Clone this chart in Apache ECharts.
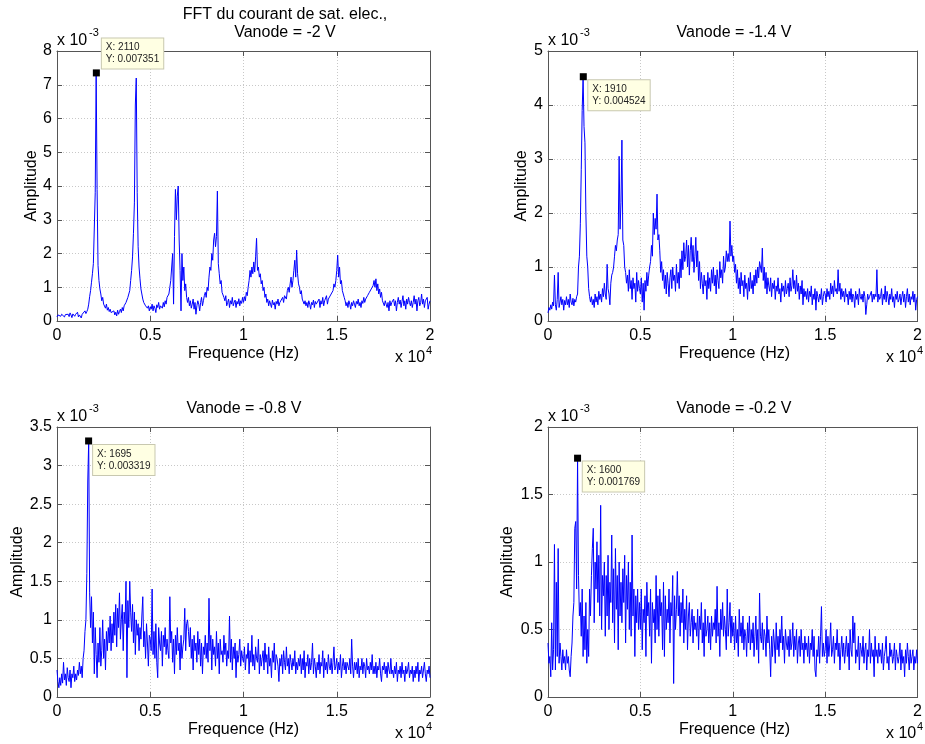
<!DOCTYPE html>
<html><head><meta charset="utf-8">
<script src="https://cdn.jsdelivr.net/npm/echarts@6/dist/echarts.min.js"></script>
<style>html,body{margin:0;padding:0;background:#fff}#c{width:925px;height:744px}</style>
</head><body><div id="c"></div>
<script>
// FFT bins every 50 Hz from 0 to 20000 Hz ; amplitudes in units of 1e-3
const freqStep = 50;
const titles = [["FFT du courant de sat. elec.,", "Vanode = -2 V"], ["Vanode = -1.4 V"], ["Vanode = -0.8 V"], ["Vanode = -0.2 V"]];
const yMax = [8, 5, 3.5, 2];
const yInterval = [1, 1, 0.5, 0.5];
const xTickLabels = ["0", "0.5", "1", "1.5", "2"];
const peakX = [2110, 1910, 1695, 1600];
const peakY = [0.007351, 0.004524, 0.003319, 0.001769];

const amp1 = [
0.12,0.18,0.15,0.22,0.14,0.2,0.25,0.16,0.12,0.19,0.23,0.15,0.2,0.13,0.24,0.18,0.1,0.21,0.17,0.14,
0.2,0.15,0.26,0.12,0.18,0.22,0.09,0.2,0.25,0.16,0.3,0.22,0.28,0.35,0.5,0.72,0.9,1.15,1.4,1.7,
1.75,3.8,7.351,3.9,1.65,1.2,0.95,0.8,0.6,0.7,0.5,0.45,0.38,0.5,0.32,0.4,0.28,0.35,0.25,0.3,
0.22,0.3,0.18,0.26,0.15,0.32,0.2,0.28,0.35,0.25,0.4,0.3,0.45,0.4,0.55,0.5,0.7,0.75,0.9,1.2,
1.5,1.9,2.6,3.5,6.4,7.2,3.8,2.2,1.6,1.25,0.95,0.8,0.65,0.55,0.6,0.45,0.5,0.38,0.45,0.3,
0.42,0.35,0.5,0.3,0.45,0.38,0.25,0.48,0.4,0.55,0.35,0.45,0.5,0.38,0.55,0.42,0.6,0.5,0.7,0.65,
0.8,1.0,1.2,1.6,2.0,0.5,2.5,3.9,3.0,3.7,4.0,2.4,1.5,0.3,2.0,1.2,1.6,0.9,1.1,0.7,
0.55,0.7,0.45,0.6,0.38,0.5,0.65,0.35,0.55,0.2,0.45,0.6,0.5,0.3,0.55,0.7,0.45,0.6,0.75,0.85,
0.7,1.0,0.9,1.3,1.6,1.5,2.0,1.8,2.4,2.6,2.2,2.5,3.85,1.7,1.4,1.1,1.2,0.85,0.9,0.7,
0.6,0.75,0.45,0.55,0.65,0.4,0.6,0.5,0.7,0.45,0.55,0.62,0.4,0.58,0.5,0.66,0.45,0.6,0.52,0.7,
0.55,0.72,0.6,0.85,0.75,1.0,1.2,1.5,1.3,1.6,1.4,1.75,1.45,1.9,2.45,1.5,1.6,1.3,1.4,1.1,
1.2,0.9,1.0,0.7,0.8,0.55,0.65,0.45,0.6,0.5,0.4,0.62,0.48,0.55,0.35,0.58,0.5,0.65,0.45,0.55,
0.6,0.5,0.7,0.55,0.75,0.8,0.65,0.9,1.0,0.85,1.1,1.3,1.0,1.2,1.5,1.8,1.3,2.1,1.4,1.1,
1.0,0.8,0.9,0.65,0.7,0.5,0.6,0.45,0.55,0.4,0.6,0.5,0.35,0.55,0.48,0.62,0.4,0.58,0.5,0.45,
0.55,0.65,0.4,0.6,0.5,0.7,0.45,0.6,0.55,0.75,0.5,0.65,0.7,0.6,0.8,0.75,0.9,1.1,1.0,1.2,
1.5,1.95,1.3,1.6,1.1,1.2,0.9,0.8,0.7,0.6,0.45,0.55,0.4,0.6,0.5,0.35,0.55,0.45,0.6,0.5,
0.4,0.58,0.5,0.65,0.45,0.55,0.4,0.6,0.52,0.7,0.55,0.65,0.6,0.75,0.7,0.85,0.8,0.95,0.9,1.05,
1.2,1.0,1.25,0.9,1.1,0.8,0.95,0.7,0.85,0.6,0.65,0.45,0.6,0.5,0.4,0.55,0.3,0.6,0.45,0.55,
0.5,0.65,0.45,0.6,0.3,0.55,0.7,0.5,0.62,0.4,0.58,0.75,0.45,0.6,0.35,0.65,0.5,0.7,0.55,0.45,
0.6,0.4,0.55,0.75,0.5,0.65,0.3,0.6,0.7,0.45,0.55,0.8,0.5,0.65,0.4,0.6,0.55,0.7,0.35,0.5,
0.6];

const amp2 = [
0.15,0.25,0.2,0.3,0.22,0.35,0.28,0.85,0.3,0.2,0.4,0.9,0.25,0.35,0.45,0.3,0.4,0.2,0.38,0.3,
0.45,0.3,0.4,0.25,0.5,0.35,0.3,0.42,0.28,0.4,0.35,0.45,0.5,1.0,1.2,1.8,2.8,3.9,4.524,3.6,
3.3,2.0,1.2,1.0,0.6,0.45,0.35,0.45,0.3,0.4,0.25,0.5,0.35,0.45,0.3,0.55,0.4,0.5,0.35,0.6,
0.45,0.7,0.5,0.4,1.05,0.6,0.5,0.3,0.7,0.85,0.9,1.0,1.2,1.4,1.3,1.5,1.6,3.05,1.7,2.2,
3.35,1.5,1.4,1.0,0.9,0.7,0.85,0.55,0.95,0.6,0.75,0.4,0.8,0.6,0.7,0.35,0.9,0.55,0.75,0.6,
0.5,0.8,0.35,0.7,0.2,0.75,0.55,0.9,0.65,0.85,1.0,1.1,1.4,1.2,2.0,1.6,1.9,1.7,2.35,1.5,
1.6,1.3,0.9,1.1,0.75,0.95,0.6,0.85,0.5,0.9,0.7,0.45,0.8,0.95,0.6,1.0,0.75,0.85,0.55,1.05,
0.7,0.9,0.6,1.15,0.8,1.3,0.95,1.45,1.1,1.2,1.5,1.0,1.4,0.85,1.3,1.55,1.1,1.4,0.9,1.2,
1.55,1.0,1.3,0.75,1.1,0.6,0.9,0.7,0.5,0.85,0.65,0.75,0.4,0.9,0.6,0.8,0.55,0.95,0.7,1.0,
0.65,0.85,0.5,0.95,0.75,0.6,1.1,0.8,0.95,0.7,1.2,0.9,1.0,1.3,1.1,1.25,1.1,1.85,1.2,1.4,
1.1,1.2,0.9,1.05,0.7,0.95,0.6,0.8,0.5,0.9,0.65,0.75,0.45,0.85,0.6,0.7,0.4,0.8,0.55,0.9,
0.6,0.75,0.5,0.85,0.65,0.95,0.7,1.0,0.8,1.1,1.1,0.9,1.35,0.75,1.0,0.6,0.9,0.5,0.8,0.65,
0.55,0.8,0.45,0.7,0.6,0.75,0.4,0.65,0.55,0.8,0.5,0.6,0.35,0.7,0.55,0.65,0.45,0.75,0.5,0.6,
0.7,0.45,0.8,0.55,0.65,0.95,0.6,0.75,0.5,0.85,0.55,0.7,0.4,0.65,0.5,0.75,0.3,0.6,0.45,0.55,
0.4,0.6,0.35,0.55,0.45,0.65,0.3,0.5,0.4,0.6,0.2,0.55,0.45,0.35,0.5,0.4,0.6,0.3,0.45,0.55,
0.5,0.35,0.6,0.45,0.55,0.4,0.7,0.5,0.65,0.45,0.75,0.55,0.6,0.5,0.95,0.55,0.7,0.4,0.6,0.45,
0.55,0.35,0.6,0.45,0.5,0.3,0.55,0.4,0.6,0.35,0.5,0.45,0.25,0.55,0.4,0.5,0.3,0.6,0.45,0.4,
0.5,0.35,0.55,0.45,0.12,0.3,0.5,0.4,0.45,0.45,0.55,0.35,0.5,0.4,0.5,0.45,0.95,0.35,0.5,0.4,
0.45,0.6,0.3,0.5,0.4,0.65,0.35,0.55,0.45,0.3,0.5,0.4,0.6,0.35,0.45,0.25,0.5,0.4,0.55,0.35,
0.4,0.5,0.3,0.45,0.55,0.35,0.5,0.25,0.45,0.6,0.35,0.5,0.3,0.45,0.4,0.55,0.35,0.5,0.2,0.4,
0.45];

const amp3 = [
0.35,0.2,0.12,0.25,0.15,0.3,0.18,0.45,0.22,0.3,0.15,0.38,0.25,0.2,0.35,0.12,0.3,0.25,0.4,0.2,
0.3,0.22,0.35,0.28,0.45,0.3,0.4,0.25,0.5,0.6,0.85,1.0,1.6,2.8,3.319,1.35,0.9,1.3,0.7,1.1,
0.3,0.9,0.55,0.25,0.7,0.45,0.9,0.4,0.6,1.0,0.5,0.75,0.35,0.85,0.6,0.9,0.7,1.05,0.6,0.95,
0.7,1.1,0.8,1.2,0.65,1.15,0.9,1.35,0.75,1.0,1.2,0.6,1.1,0.95,1.5,0.25,1.25,0.9,1.5,1.1,
0.85,1.2,0.7,1.1,0.55,1.0,0.8,0.95,0.6,0.9,0.75,1.05,1.3,0.65,0.85,0.5,0.95,0.7,0.4,0.8,
0.75,0.6,1.4,0.55,0.85,0.5,0.95,0.45,0.25,0.9,0.7,0.6,0.85,0.4,0.8,0.65,0.9,0.55,0.75,0.6,
0.5,1.3,0.7,0.85,0.45,0.75,0.3,0.8,0.55,0.9,0.6,0.7,0.35,0.8,0.5,0.65,0.75,1.15,0.6,0.95,
1.0,0.85,0.65,0.9,0.5,0.75,0.35,0.8,0.6,0.7,0.45,0.85,0.55,0.75,0.4,0.7,0.3,0.65,0.55,0.8,
0.5,0.7,0.45,1.28,0.6,0.8,0.35,0.75,0.55,0.65,0.4,0.85,0.5,0.7,0.3,0.75,0.55,0.6,0.45,0.8,
0.55,0.7,0.4,0.6,0.5,1.05,0.45,0.75,0.35,0.65,0.5,0.7,0.25,0.6,0.45,0.55,0.75,0.4,0.6,0.5,
0.45,0.65,0.35,0.55,0.5,0.7,0.3,0.6,0.45,0.8,0.4,0.55,0.35,0.65,0.5,0.45,0.75,0.3,0.55,0.4,
0.5,0.6,0.35,0.7,0.45,0.55,0.3,0.65,0.4,0.5,0.25,0.6,0.45,0.7,0.35,0.55,0.5,0.4,0.2,0.5,
0.4,0.55,0.3,0.6,0.45,0.35,0.65,0.4,0.5,0.3,0.55,0.45,0.35,0.5,0.4,0.6,0.3,0.45,0.35,0.5,
0.4,0.55,0.3,0.5,0.35,0.6,0.25,0.45,0.4,0.55,0.3,0.5,0.35,0.45,0.7,0.3,0.5,0.4,0.25,0.45,
0.35,0.55,0.3,0.45,0.4,0.6,0.25,0.5,0.35,0.45,0.3,0.55,0.4,0.35,0.5,0.3,0.45,0.65,0.35,0.4,
0.5,0.3,0.45,0.35,0.55,0.25,0.4,0.5,0.35,0.45,0.3,0.45,0.4,0.35,0.5,0.3,0.75,0.4,0.25,0.45,
0.35,0.45,0.3,0.5,0.25,0.4,0.35,0.5,0.3,0.45,0.4,0.25,0.5,0.35,0.4,0.3,0.45,0.35,0.55,0.3,
0.4,0.3,0.45,0.25,0.4,0.35,0.5,0.3,0.2,0.4,0.35,0.45,0.3,0.4,0.25,0.45,0.35,0.3,0.5,0.3,
0.35,0.25,0.4,0.3,0.45,0.2,0.35,0.3,0.4,0.25,0.45,0.3,0.35,0.2,0.4,0.3,0.35,0.45,0.25,0.35,
0.3,0.4,0.2,0.35,0.25,0.4,0.3,0.45,0.2,0.35,0.3,0.4,0.25,0.35,0.45,0.3,0.2,0.35,0.3,0.4,
0.25];

const amp4 = [
0.4,0.25,0.3,0.15,0.55,0.2,0.35,1.13,0.2,0.85,0.3,1.1,0.25,0.4,0.3,0.2,0.35,0.25,0.3,0.2,
0.35,0.25,0.3,0.2,0.15,0.3,0.4,0.6,0.7,1.25,1.3,0.8,1.769,0.9,0.6,0.7,0.45,0.8,0.3,0.6,
0.35,0.7,0.25,0.5,0.3,0.8,0.6,0.9,1.1,1.25,0.55,1.0,0.8,1.15,0.7,1.05,0.6,1.42,0.5,0.9,
0.75,1.0,0.45,0.9,0.6,1.05,0.5,0.85,0.7,1.2,0.55,0.95,0.4,1.1,0.65,0.9,0.35,1.0,0.6,0.85,
0.55,0.95,0.7,1.05,0.4,0.9,0.65,1.0,0.5,0.85,0.45,1.2,0.6,0.8,0.3,0.75,0.55,0.8,0.5,0.7,
0.5,0.8,0.35,0.65,0.55,0.75,0.3,0.85,0.6,0.7,0.45,0.8,0.25,0.7,0.55,0.65,0.4,0.9,0.5,0.75,
0.45,0.8,0.6,0.7,0.35,0.85,0.3,0.75,0.5,0.65,0.55,0.8,0.4,0.7,0.6,0.9,0.1,0.75,0.5,0.65,
0.93,0.6,0.75,0.45,0.7,0.55,0.8,0.4,0.65,0.5,0.75,0.35,0.6,0.7,0.45,0.55,0.65,0.4,0.6,0.5,
0.55,0.45,0.65,0.35,0.6,0.5,0.7,0.4,0.55,0.3,0.65,0.45,0.5,0.6,0.4,0.55,0.35,0.6,0.45,0.55,
0.5,0.65,0.4,0.82,0.45,0.55,0.3,0.65,0.5,0.7,0.45,0.6,0.5,0.35,0.8,0.45,0.55,0.7,0.4,0.6,
0.45,0.55,0.35,0.6,0.4,0.5,0.3,0.65,0.45,0.55,0.4,0.6,0.35,0.5,0.45,0.3,0.55,0.4,0.6,0.35,
0.5,0.4,0.55,0.3,0.45,0.6,0.35,0.5,0.25,0.77,0.45,0.4,0.55,0.35,0.5,0.45,0.3,0.6,0.4,0.5,
0.35,0.15,0.45,0.3,0.5,0.4,0.25,0.55,0.35,0.45,0.3,0.5,0.4,0.6,0.35,0.45,0.25,0.5,0.4,0.35,
0.45,0.3,0.5,0.35,0.4,0.55,0.3,0.45,0.35,0.5,0.25,0.4,0.45,0.3,0.5,0.35,0.4,0.25,0.45,0.35,
0.4,0.3,0.45,0.25,0.4,0.35,0.5,0.3,0.45,0.2,0.15,0.35,0.3,0.45,0.25,0.45,0.67,0.3,0.4,0.3,
0.35,0.5,0.25,0.45,0.3,0.4,0.55,0.3,0.35,0.45,0.25,0.4,0.35,0.5,0.3,0.4,0.2,0.35,0.45,0.3,
0.4,0.25,0.35,0.45,0.3,0.4,0.2,0.5,0.35,0.3,0.6,0.4,0.55,0.25,0.35,0.3,0.45,0.2,0.4,0.35,
0.3,0.45,0.25,0.35,0.4,0.2,0.35,0.3,0.5,0.25,0.4,0.3,0.35,0.15,0.45,0.3,0.35,0.25,0.4,0.3,
0.35,0.25,0.4,0.2,0.3,0.35,0.45,0.25,0.3,0.2,0.4,0.3,0.35,0.25,0.3,0.4,0.2,0.35,0.3,0.25,
0.3,0.4,0.2,0.35,0.25,0.3,0.15,0.35,0.25,0.4,0.3,0.2,0.35,0.25,0.3,0.35,0.2,0.3,0.25,0.35,
0.25];

const amps = [amp1, amp2, amp3, amp4];

// ---------- layout ----------
const FONT = "'Liberation Sans', Arial, sans-serif";
const grids = [
  {left: 57, top: 51, width: 373, height: 270},
  {left: 548, top: 51, width: 373, height: 270},
  {left: 57, top: 427, width: 373, height: 270},
  {left: 548, top: 427, width: 373, height: 270}
];
const titleCenterX = [285, 734, 244, 734];
const ylabelX = [32, 522, 18, 508];
const tipOffset = [[9, -31], [8.5, 7], [8, 7.5], [8.7, 6.7]];

const xAxes = [], yAxes = [], series = [], graphics = [];
const axisLineStyle = {color: '#555', width: 1};
grids.forEach((g, i) => {
  xAxes.push({
    gridIndex: i, type: 'value', min: 0, max: 20000, interval: 5000, position: 'bottom',
    axisLine: {show: true, onZero: false, lineStyle: axisLineStyle},
    axisTick: {show: true, inside: true, length: 5, lineStyle: {color: '#555'}},
    axisLabel: {show: true, margin: 7, fontSize: 16, color: '#000', fontFamily: FONT,
      formatter: v => xTickLabels[Math.round(v / 5000)]},
    splitLine: {show: true, lineStyle: {color: '#c8c8c8', type: [1, 2], width: 1}}
  });
  xAxes.push({
    gridIndex: i, type: 'value', min: 0, max: 20000, interval: 5000, position: 'top',
    axisLine: {show: true, onZero: false, lineStyle: axisLineStyle},
    axisTick: {show: true, inside: true, length: 5, lineStyle: {color: '#555'}},
    axisLabel: {show: false}, splitLine: {show: false}
  });
  yAxes.push({
    gridIndex: i, type: 'value', min: 0, max: yMax[i], interval: yInterval[i], position: 'left',
    axisLine: {show: true, onZero: false, lineStyle: axisLineStyle},
    axisTick: {show: true, inside: true, length: 5, lineStyle: {color: '#555'}},
    axisLabel: {show: true, margin: 5, fontSize: 16, color: '#000', fontFamily: FONT},
    splitLine: {show: true, lineStyle: {color: '#c8c8c8', type: [1, 2], width: 1}}
  });
  yAxes.push({
    gridIndex: i, type: 'value', min: 0, max: yMax[i], interval: yInterval[i], position: 'right',
    axisLine: {show: true, onZero: false, lineStyle: axisLineStyle},
    axisTick: {show: true, inside: true, length: 5, lineStyle: {color: '#555'}},
    axisLabel: {show: false}, splitLine: {show: false}
  });
  series.push({
    type: 'line', xAxisIndex: 2 * i, yAxisIndex: 2 * i,
    data: amps[i].map((v, k) => [k * freqStep, v]),
    showSymbol: false, symbol: 'none', sampling: null,
    lineStyle: {color: '#0000ff', width: 1}, itemStyle: {color: '#0000ff'},
    silent: true, animation: false,
    markPoint: {
      silent: true, animation: false,
      symbol: 'rect', symbolSize: 7, itemStyle: {color: '#000'},
      label: {
        show: true, position: tipOffset[i], align: 'left', verticalAlign: 'top',
        formatter: 'X: ' + peakX[i] + '\nY: ' + peakY[i],
        fontSize: 10, lineHeight: 12, color: '#222', fontFamily: FONT,
        backgroundColor: '#ffffe3', borderColor: '#c8c8b0', borderWidth: 1,
        padding: [3, 4, 3, 4]
      },
      data: [{coord: [peakX[i], peakY[i] * 1000]}]
    }
  });

  // titles
  const tl = titles[i];
  const axTop = g.top;
  tl.forEach((t, j) => {
    graphics.push({type: 'text', x: titleCenterX[i], y: axTop - 18 - (tl.length - 1 - j) * 18,
      style: {text: t, font: '16px ' + FONT, fill: '#000', textAlign: 'center', textVerticalAlign: 'middle'}});
  });
  // y label
  graphics.push({type: 'text', x: ylabelX[i], y: g.top + g.height / 2, rotation: Math.PI / 2,
    style: {text: 'Amplitude', font: '16px ' + FONT, fill: '#000', textAlign: 'center', textVerticalAlign: 'middle'}});
  // x label
  graphics.push({type: 'text', x: g.left + g.width / 2, y: g.top + g.height + 33,
    style: {text: 'Frequence (Hz)', font: '16px ' + FONT, fill: '#000', textAlign: 'center', textVerticalAlign: 'middle'}});
  // x 10^-3
  graphics.push({type: 'text', x: g.left, y: g.top - 10,
    style: {text: 'x 10', font: '16px ' + FONT, fill: '#000', textAlign: 'left', textVerticalAlign: 'middle'}});
  graphics.push({type: 'text', x: g.left + 32, y: g.top - 18,
    style: {text: '-3', font: '11px ' + FONT, fill: '#000', textAlign: 'left', textVerticalAlign: 'middle'}});
  // x 10^4
  graphics.push({type: 'text', x: g.left + g.width - 35, y: g.top + g.height + 37,
    style: {text: 'x 10', font: '16px ' + FONT, fill: '#000', textAlign: 'left', textVerticalAlign: 'middle'}});
  graphics.push({type: 'text', x: g.left + g.width - 4, y: g.top + g.height + 30,
    style: {text: '4', font: '11px ' + FONT, fill: '#000', textAlign: 'left', textVerticalAlign: 'middle'}});
});

const chart = echarts.init(document.getElementById('c'), null, {renderer: 'canvas'});
chart.setOption({
  animation: false,
  backgroundColor: '#fff',
  grid: grids.map(g => Object.assign({containLabel: false}, g)),
  xAxis: xAxes,
  yAxis: yAxes,
  series: series,
  graphic: graphics
});
</script>
</body></html>
